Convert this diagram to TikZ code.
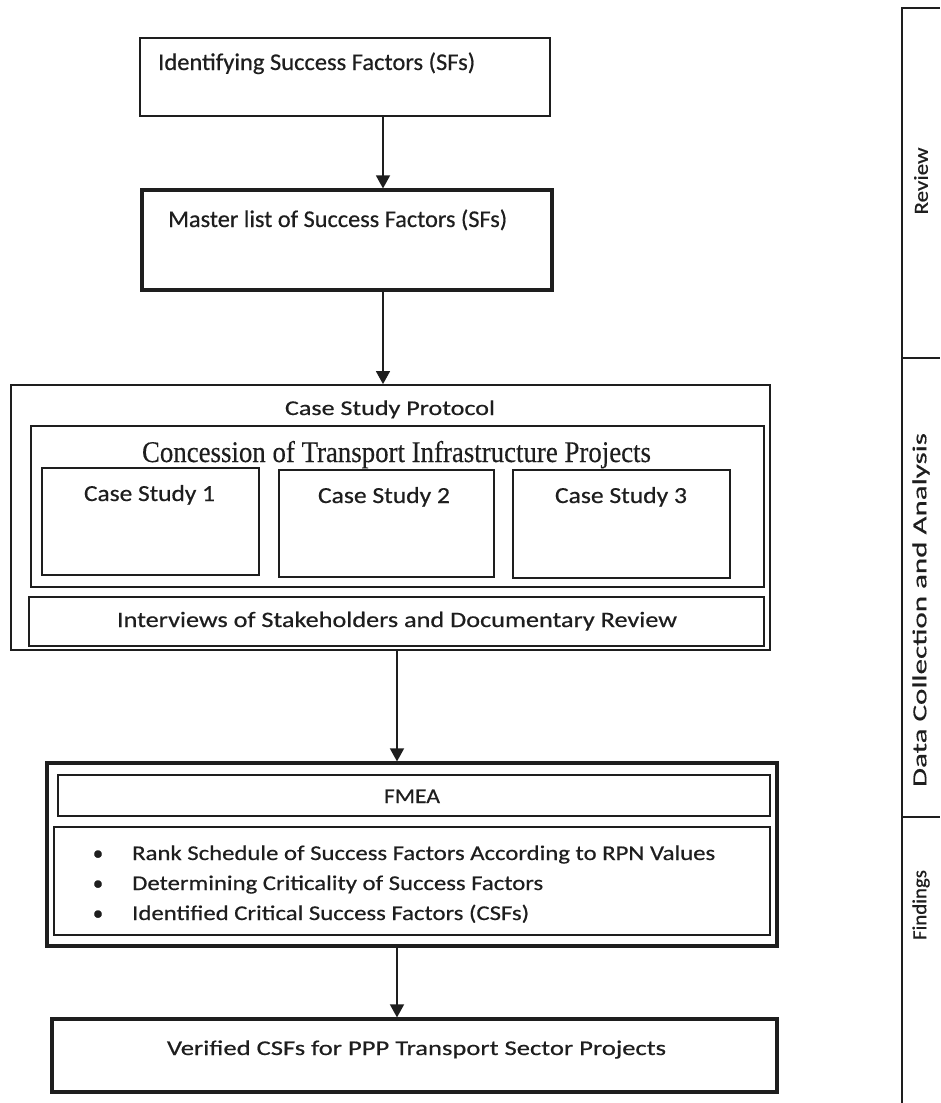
\documentclass[tikz,border=0pt]{standalone}
\usepackage{graphicx}
\usepackage{fontspec}
\setmainfont{Carlito}[FakeBold=0.5]
\newfontfamily\timesf{Liberation Serif}[FakeBold=0.3]
\usetikzlibrary{arrows.meta}
\newcommand{\fitw}[3]{\resizebox{#1}{\height}{\fontsize{#2}{#2}\selectfont #3}}
\definecolor{ink}{HTML}{1E1E1E}
\tikzset{
  box/.style={draw=ink, line width=1.8pt, rectangle, inner sep=0pt},
  thickbox/.style={draw=ink, line width=3.2pt, rectangle, inner sep=0pt},
  txt/.style={inner sep=0pt, text=ink},
  arr/.style={draw=ink, line width=1.5pt, -{Triangle[width=14pt,length=13pt]}},
  panel/.style={draw=ink, line width=1.8pt},
}
\begin{document}
\begin{tikzpicture}[x=1pt,y=-1pt]
\useasboundingbox (0,0) rectangle (940,1103);
% boxes
\node[box, minimum width=410pt, minimum height=78pt] (b1) at (345,77) {};
\node[thickbox, minimum width=410pt, minimum height=100pt] (b2) at (347,240) {};
\node[box, minimum width=759pt, minimum height=265pt] (proto) at (390.5,517.5) {};
\node[box, minimum width=733pt, minimum height=161pt] (conc) at (397.5,506.5) {};
\node[box, minimum width=217pt, minimum height=107pt] (cs1) at (150.5,521.5) {};
\node[box, minimum width=215pt, minimum height=107pt] (cs2) at (386.5,523.5) {};
\node[box, minimum width=217pt, minimum height=108pt] (cs3) at (621.5,524) {};
\node[box, minimum width=735pt, minimum height=49pt] (intv) at (396.5,621.5) {};
\node[thickbox, minimum width=730pt, minimum height=183pt] (fmea) at (412,854.5) {};
\node[box, minimum width=712pt, minimum height=41pt] (fmt) at (414,795.5) {};
\node[box, minimum width=716pt, minimum height=108pt] (fml) at (412,881) {};
\node[thickbox, minimum width=725pt, minimum height=73pt] (fin) at (414.5,1055.5) {};
% texts
\node[txt, anchor=base west] (t1) at (158,70) {\fitw{317pt}{24pt}{Identifying Success Factors (SFs)}};
\node[txt, anchor=base west] (t2) at (168,227) {\fitw{339pt}{24pt}{Master list of Success Factors (SFs)}};
\node[txt, anchor=base] (tp) at (390,415) {\fitw{210pt}{21pt}{Case Study Protocol}};
\node[txt, anchor=base] (tc) at (396.5,462) {\fitw{509pt}{30pt}{\timesf Concession of Transport Infrastructure Projects}};
\node[txt, anchor=base] (tcs1) at (149.5,501) {\fitw{131pt}{23pt}{Case Study 1}};
\node[txt, anchor=base] (tcs2) at (384,503) {\fitw{132pt}{23pt}{Case Study 2}};
\node[txt, anchor=base] (tcs3) at (621,503) {\fitw{132pt}{23pt}{Case Study 3}};
\node[txt, anchor=base] (ti) at (397,627) {\fitw{560pt}{22pt}{Interviews of Stakeholders and Documentary Review}};
\node[txt, anchor=base] (tf) at (412,803) {\fitw{56pt}{21pt}{FMEA}};
\node[txt, anchor=base] (bu1) at (98,860) {\fontsize{21pt}{21pt}\selectfont\textbullet};
\node[txt, anchor=base] (bu2) at (98,890) {\fontsize{21pt}{21pt}\selectfont\textbullet};
\node[txt, anchor=base] (bu3) at (98,920) {\fontsize{21pt}{21pt}\selectfont\textbullet};
\node[txt, anchor=base west] (l1) at (132,860) {\fitw{583pt}{21pt}{Rank Schedule of Success Factors According to RPN Values}};
\node[txt, anchor=base west] (l2) at (132,890) {\fitw{411pt}{21pt}{Determining Criticality of Success Factors}};
\node[txt, anchor=base west] (l3) at (132,920) {\fitw{397pt}{21pt}{Identified Critical Success Factors (CSFs)}};
\node[txt, anchor=base] (tfin) at (416.5,1055) {\fitw{499pt}{21pt}{Verified CSFs for PPP Transport Sector Projects}};
% arrows
\coordinate (xa) at (383,0);
\coordinate (xb) at (397,0);
\draw[arr] (b1.south -| xa) -- (b2.north -| xa);
\draw[arr] (b2.south -| xa) -- (proto.north -| xa);
\draw[arr] (proto.south -| xb) -- (fmea.north -| xb);
\draw[arr] (fmea.south -| xb) -- (fin.north -| xb);
% right panel
\coordinate (pb) at (902,1103);
\coordinate (pt) at (902,8);
\coordinate (pr) at (940,8);
\coordinate (d1l) at (902,358);
\coordinate (d1r) at (940,358);
\coordinate (d2l) at (902,817);
\coordinate (d2r) at (940,817);
\draw[panel] (pb) -- (pt) -- (pr);
\draw[panel] (d1l) -- (d1r);
\draw[panel, line width=2.8pt] (d2l) -- (d2r);
\node[txt, rotate=90] (rv) at (921,181) {\fitw{67pt}{20pt}{Review}};
\node[txt, rotate=90] (dc) at (921,610) {\fitw{354pt}{20pt}{Data Collection and Analysis}};
\node[txt, rotate=90] (fd) at (921,905) {\fitw{70pt}{20pt}{Findings}};
\end{tikzpicture}
\end{document}
